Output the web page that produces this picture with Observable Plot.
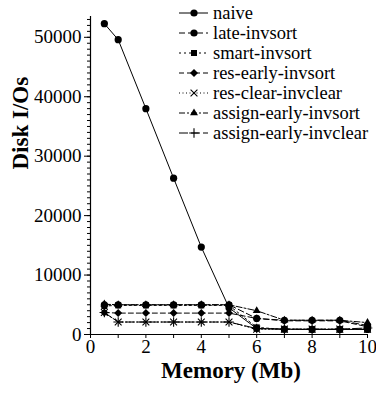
<!DOCTYPE html>
<html>
<head>
<meta charset="utf-8">
<script src="https://cdn.jsdelivr.net/npm/d3@7"></script>
<script src="https://cdn.jsdelivr.net/npm/@observablehq/plot@0.6"></script>
<style>
  html, body { margin: 0; padding: 0; background: white; }
  #chart { position: relative; width: 376px; height: 394px; }
  #chart svg, #chart svg text { font-family: "Liberation Serif", "Tinos", "Nimbus Roman", "FreeSerif", "Noto Serif", "DejaVu Serif", "Times New Roman", Times, serif !important; }
</style>
</head>
<body>
<div id="chart"></div>
<script>
// ---- data ----
const memory = [0.5, 1, 2, 3, 4, 5, 6, 7, 8, 9, 10];
const seriesNames = ["naive", "late-invsort", "smart-invsort", "res-early-invsort", "res-clear-invclear", "assign-early-invsort", "assign-early-invclear"];
const naive = [52300, 49600, 38000, 26300, 14700, 4500, 1000, 900, 850, 850, 850];
const lateInvsort = [5000, 5000, 5000, 5000, 5000, 5000, 2700, 2400, 2400, 2400, 1500];
const smartInvsort = [4800, 4900, 4900, 4900, 4900, 4900, 1200, 850, 850, 850, 850];
const resEarlyInvsort = [3700, 3600, 3600, 3600, 3600, 3600, 2700, 2300, 2300, 2300, 1300];
const resClearInvclear = [3700, 2100, 2100, 2100, 2100, 2100, 900, 900, 900, 900, 900];
const assignEarlyInvsort = [5100, 5000, 5000, 5000, 5000, 5000, 4000, 2400, 2400, 2400, 2000];
const assignEarlyInvclear = [3700, 2100, 2100, 2100, 2100, 2100, 1000, 900, 900, 900, 1100];
const yMajorTicks = [0, 10000, 20000, 30000, 40000, 50000];
const xTicks = [0, 1, 2, 3, 4, 5, 6, 7, 8, 9, 10];
const xLabelTicks = [0, 2, 4, 6, 8, 10];

// ---- styles per series ----
const seriesValues = [naive, lateInvsort, smartInvsort, resEarlyInvsort, resClearInvclear, assignEarlyInvsort, assignEarlyInvclear];
const symbols = ["circle", "circle", "square", "diamond2", "times", "triangle2", "plus"];
const dashes = [null, "6,3", "2,3", "5,3", "1,2.5", "6,2,2,2", "9,3"];
const dotR = [3.6, 3.6, 3.4, 3.6, 3.2, 3.8, 3.2];

const rows = [];
seriesNames.forEach((name, i) => {
  memory.forEach((m, j) => rows.push({series: name, idx: i, x: m, y: seriesValues[i][j]}));
});

const FONT = "'Liberation Serif', Tinos, 'Nimbus Roman', FreeSerif, 'Noto Serif', 'DejaVu Serif', 'Times New Roman', Times, serif";

const marks = [
  Plot.ruleX([0], {stroke: "black", strokeWidth: 1.2}),
  Plot.ruleY([0], {stroke: "black", strokeWidth: 1.2}),
  Plot.axisY({ticks: d3.range(0, 53001, 1000), tickSize: 3, tickFormat: () => "", label: null}),
  Plot.axisY({ticks: yMajorTicks, tickSize: 6, tickPadding: 3, tickFormat: d => String(d), label: null, fontSize: 19, fontFamily: FONT}),
  Plot.axisX({ticks: xTicks, tickSize: 4, tickPadding: 1, tickFormat: d => xLabelTicks.includes(d) ? String(d) : "", label: null, fontSize: 19, fontFamily: FONT}),
];
seriesNames.forEach((name, i) => {
  const data = rows.filter(r => r.idx === i);
  marks.push(Plot.line(data, {x: "x", y: "y", stroke: "black", strokeWidth: 1, strokeDasharray: dashes[i] || undefined}));
});
seriesNames.forEach((name, i) => {
  const data = rows.filter(r => r.idx === i);
  const hollow = symbols[i] === "times" || symbols[i] === "plus";
  marks.push(Plot.dot(data, {x: "x", y: "y", symbol: () => symbols[i], r: dotR[i],
    fill: hollow ? "none" : "black", stroke: "black", strokeWidth: hollow ? 1.1 : 0}));
});
marks.push(Plot.text(["Disk I/Os"], {frameAnchor: "left", lineAnchor: "middle", rotate: -90, dx: -70, dy: -6, fontSize: 23, fontWeight: "bold", fontFamily: FONT, text: d => d}));
marks.push(Plot.text(["Memory (Mb)"], {frameAnchor: "bottom", lineAnchor: "middle", dy: 36, dx: 2, fontSize: 23, fontWeight: "bold", fontFamily: FONT, text: d => d}));

const chart = Plot.plot({
  width: 376,
  height: 394,
  marginLeft: 90,
  marginRight: 9,
  marginTop: 16,
  marginBottom: 60,
  style: {fontFamily: FONT, color: "black", background: "white", overflow: "visible"},
  x: {domain: [0, 10], axis: null},
  y: {domain: [0, 53500], axis: null},
  symbol: {type: "identity"},
  marks
});
document.getElementById("chart").appendChild(chart);

// ---- legend ----
const svg = d3.select(chart);
const lg = svg.append("g").attr("font-family", FONT).attr("font-size", 18.5).attr("text-anchor", "start");
const symGen = d3.symbol();
const symMap = {circle: d3.symbolCircle, square: d3.symbolSquare, diamond2: d3.symbolDiamond2, times: d3.symbolTimes, triangle2: d3.symbolTriangle2, plus: d3.symbolPlus};
seriesNames.forEach((name, i) => {
  const cy = 13 + i * 20;
  const g = lg.append("g").attr("transform", `translate(0,${cy})`);
  g.append("line").attr("x1", 179).attr("x2", 208).attr("y1", 0).attr("y2", 0)
    .attr("stroke", "black").attr("stroke-width", 1)
    .attr("stroke-dasharray", dashes[i] || null);
  const hollow = symbols[i] === "times" || symbols[i] === "plus";
  const r = dotR[i];
  g.append("path").attr("transform", "translate(194,0)")
    .attr("d", symGen.type(symMap[symbols[i]]).size(Math.PI * r * r)())
    .attr("fill", hollow ? "none" : "black").attr("stroke", "black").attr("stroke-width", hollow ? 1.1 : 0);
  g.append("text").attr("x", 213).attr("y", 0).attr("dy", "0.32em").attr("text-anchor", "start").attr("fill", "black").text(name);
});
</script>
</body>
</html>
